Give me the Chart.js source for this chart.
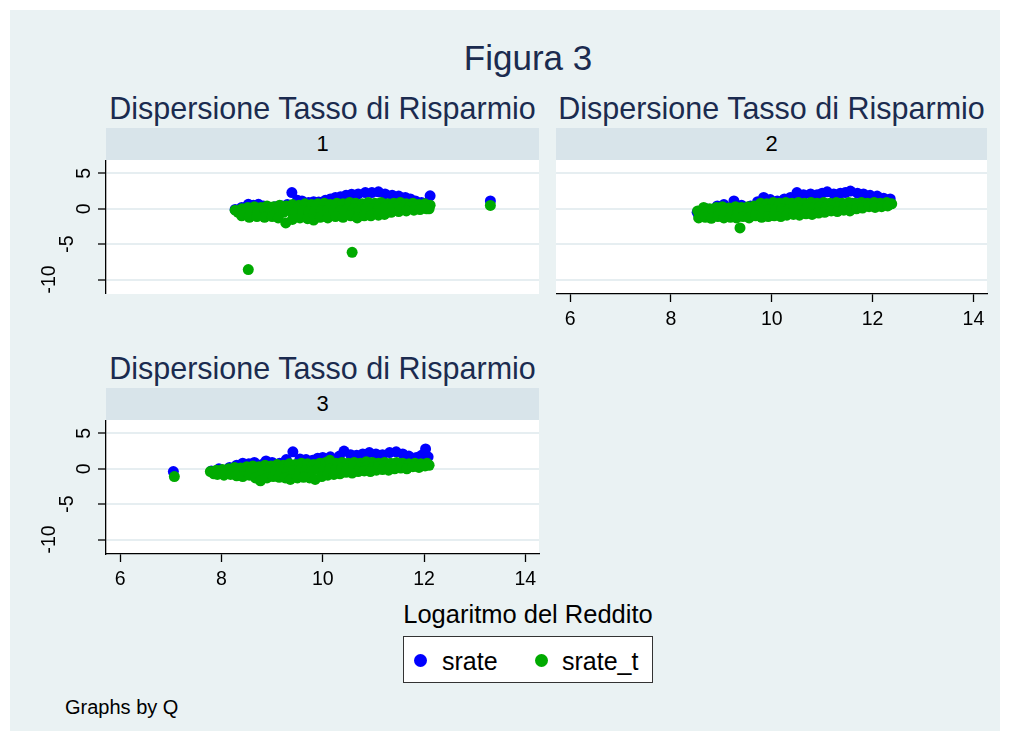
<!DOCTYPE html>
<html lang="it">
<head>
<meta charset="utf-8">
<title>Figura 3</title>
<script src="https://cdn.jsdelivr.net/npm/chart.js@4.4.1/dist/chart.umd.min.js"></script>
<style>
  body { margin: 0; background: #fff; font-family: "Liberation Sans", Arial, Helvetica, sans-serif; }
  #fig { position: relative; width: 1009px; height: 740px; overflow: hidden; }
  #region { position: absolute; left: 10px; top: 10px; width: 990px; height: 721px; background: #eaf2f3; }
  .txt { position: absolute; white-space: nowrap; text-align: center; }
  .head { color: #1b2b4f; }
  .strip { position: absolute; background: #d8e4ea; color: #000; font-size: 22px; text-align: center; }
  canvas { position: absolute; }
  #legend { position: absolute; left: 403px; top: 636px; width: 250px; height: 47px; box-sizing: border-box;
            background: #fff; border: 1px solid #333; }
  .dot { position: absolute; width: 13px; height: 13px; border-radius: 50%; }
  .lab { position: absolute; font-size: 25px; line-height: 30px; height: 30px; color: #000; }
</style>
</head>
<body>
<div id="fig">
  <div id="region"></div>

  <div class="txt head" style="left:10px; width:1036px; top:40px; height:36px; line-height:36px; font-size:35px;" id="mainTitle"></div>

  <div class="txt head" id="t1" style="left:106px; width:433px; top:93px; height:30px; line-height:30px; font-size:30.5px;"></div>
  <div class="txt head" id="t2" style="left:556px; width:431px; top:93px; height:30px; line-height:30px; font-size:30.5px;"></div>
  <div class="txt head" id="t3" style="left:106px; width:433px; top:353px; height:30px; line-height:30px; font-size:30.5px;"></div>

  <div class="strip" id="s1" style="left:106px; top:128px; width:433px; height:32px; line-height:32px;"></div>
  <div class="strip" id="s2" style="left:556px; top:128px; width:431px; height:32px; line-height:32px;"></div>
  <div class="strip" id="s3" style="left:106px; top:388px; width:433px; height:32px; line-height:32px;"></div>

  <canvas id="c1" width="509" height="134" style="left:30px; top:160px;"></canvas>
  <canvas id="c2" width="441" height="175" style="left:556px; top:160px;"></canvas>
  <canvas id="c3" width="519" height="175" style="left:30px; top:420px;"></canvas>

  <div class="txt" id="xTitle" style="left:378px; width:300px; top:598px; height:32px; line-height:32px; font-size:25.5px; color:#000;"></div>

  <div id="legend">
    <div class="dot" style="left:10px; top:17px; background:#0000ff;"></div>
    <div class="lab" id="l1" style="left:38px; top:9px;"></div>
    <div class="dot" style="left:131px; top:17px; background:#00aa00;"></div>
    <div class="lab" id="l2" style="left:158px; top:9px;"></div>
  </div>

  <div class="txt" id="note" style="left:65px; top:695px; height:24px; line-height:24px; font-size:20px; color:#000; text-align:left;"></div>
</div>

<script>
// testi
const mainTitle = 'Figura 3';
const panelTitle = 'Dispersione Tasso di Risparmio';
const stripLabels = ['1', '2', '3'];
const xTitle = 'Logaritmo del Reddito';
const seriesNames = ['srate', 'srate_t'];
const noteText = 'Graphs by Q';

// assi
const xTicks = [6, 8, 10, 12, 14];
const yTicks = [5, 0, -5, -10];
const xMin = 5.72, xMax = 14.27;
const yMin = -12.05, yMax = 6.9;

// Q = 1
const p1Srate = [[8.27,-0.1],[8.4,0.2],[8.53,0.64],[8.63,0.5],[8.73,0.64],[8.83,0.4],[8.93,0.16],[9.06,0.3],[9.19,0.4],[9.3,0.6],
  [9.39,2.3],[9.5,1.2],[9.59,1.1],[9.72,0.9],[9.82,1.0],[9.92,0.97],[10.05,1.2],[10.15,1.4],[10.25,1.6],[10.35,1.7],
  [10.46,1.9],[10.57,2.07],[10.7,2.1],[10.84,2.3],[10.97,2.3],[11.1,2.4],[11.23,2.1],[11.37,1.93],[11.5,1.8],[11.63,1.6],
  [11.73,1.4],[11.83,1.1],[11.95,0.9],[12.05,0.8],[12.12,1.83],[13.31,1.1],
  [9.0,-0.3],[9.8,0.1],[10.5,0.4],[11.2,0.6],[11.9,0.2]];
const p1SrateT = [[8.27,-0.2],[8.4,0.0],[8.52,0.2],[8.65,0.3],[8.78,0.2],[8.9,0.4],[9.03,0.3],[9.15,0.5],[9.28,0.4],[9.4,0.6],
  [9.53,0.5],[9.65,0.7],[9.78,0.6],[9.9,0.7],[10.03,0.8],[10.15,0.6],[10.28,0.8],[10.4,0.7],[10.53,0.9],[10.65,0.8],
  [10.78,0.7],[10.9,0.9],[11.03,0.8],[11.15,0.9],[11.28,0.7],[11.4,0.8],[11.53,0.9],[11.65,0.7],[11.78,0.8],[11.9,0.6],
  [12.02,0.7],[12.12,0.5],
  [8.33,-0.5],[8.47,-0.6],[8.6,-0.4],[8.72,-0.5],[8.85,-0.3],[8.97,-0.6],[9.1,-0.4],[9.22,-0.5],[9.35,-0.3],[9.47,-0.5],
  [9.6,-0.3],[9.72,-0.4],[9.85,-0.2],[9.97,-0.3],[10.1,-0.2],[10.22,-0.1],[10.35,-0.3],[10.47,-0.1],[10.6,0.0],[10.72,-0.2],
  [10.85,0.1],[10.97,0.0],[11.1,0.1],[11.22,0.2],[11.35,0.1],[11.47,0.3],[11.6,0.2],[11.72,0.3],[11.85,0.2],[11.97,0.3],[12.1,0.0],
  [8.4,-1.0],[8.55,-1.2],[8.7,-1.1],[8.85,-1.2],[9.0,-1.1],[9.12,-1.3],[9.27,-2.0],[9.4,-1.5],[9.55,-1.3],[9.7,-1.4],
  [9.82,-1.6],[9.95,-1.2],[10.1,-1.3],[10.25,-1.1],[10.4,-1.2],[10.55,-1.0],[10.68,-1.3],[10.82,-1.0],[10.95,-1.0],[11.1,-0.9],
  [11.22,-0.8],[11.35,-0.5],[11.5,-0.4],[11.65,-0.3],[11.8,-0.2],[11.92,-0.1],[12.05,0.0],
  [8.53,-8.6],[10.58,-6.15],[13.31,0.47]];

// Q = 2
const p2Srate = [[8.52,-0.5],[8.7,0.0],[8.92,0.4],[9.05,0.6],[9.25,1.1],[9.4,0.5],[9.58,0.4],[9.72,1.0],[9.84,1.6],[9.97,1.3],
  [10.11,1.1],[10.25,1.4],[10.37,1.6],[10.5,2.3],[10.63,2.0],[10.77,2.1],[10.9,2.0],[11.0,2.2],[11.1,2.4],[11.23,2.1],
  [11.36,2.2],[11.46,2.3],[11.56,2.5],[11.7,2.2],[11.82,2.1],[11.95,1.9],[12.09,1.8],[12.22,1.5],[12.35,1.4],
  [9.2,-0.4],[10.0,0.2],[10.8,0.6],[11.6,0.8],[12.2,0.7]];
const p2SrateT = [[8.53,-0.3],[8.65,0.2],[8.77,0.0],[8.9,0.2],[9.02,0.3],[9.15,0.1],[9.28,0.3],[9.4,0.2],[9.53,0.3],[9.65,0.4],
  [9.78,0.8],[9.9,0.7],[10.03,0.9],[10.15,0.8],[10.28,0.9],[10.4,0.8],[10.53,0.9],[10.65,0.8],[10.78,0.9],[10.9,0.8],
  [11.03,0.9],[11.15,0.8],[11.28,0.9],[11.4,0.8],[11.53,0.9],[11.65,0.8],[11.78,0.9],[11.9,0.8],[12.03,0.9],[12.15,0.8],
  [12.28,0.9],[12.38,0.7],
  [8.58,-0.8],[8.7,-0.6],[8.83,-0.7],[8.95,-0.5],[9.08,-0.6],[9.2,-0.4],[9.33,-0.6],[9.45,-0.4],[9.58,-0.5],[9.7,-0.2],
  [9.83,-0.3],[9.95,-0.1],[10.08,-0.2],[10.2,0.0],[10.33,-0.1],[10.45,0.1],[10.58,0.0],[10.7,0.2],[10.83,0.1],[10.95,0.3],
  [11.08,0.2],[11.2,0.4],[11.33,0.3],[11.45,0.5],[11.58,0.4],[11.7,0.6],[11.83,0.5],[11.95,0.6],[12.08,0.6],[12.2,0.5],[12.33,0.6],
  [8.55,-1.3],[8.68,-1.2],[8.8,-1.35],[8.93,-1.1],[9.05,-1.3],[9.18,-1.2],[9.3,-1.3],[9.43,-1.1],[9.55,-1.3],[9.68,-1.0],
  [9.8,-1.2],[9.93,-1.1],[10.05,-1.0],[10.18,-1.1],[10.3,-0.9],[10.43,-0.8],[10.55,-0.9],[10.68,-0.7],[10.8,-0.8],[10.93,-0.6],
  [11.05,-0.5],[11.18,-0.3],[11.3,-0.4],[11.43,-0.2],[11.55,-0.3],[11.68,0.0],[11.8,0.1],[11.93,0.3],[12.05,0.2],[12.18,0.3],[12.3,0.4],
  [9.37,-2.7]];

// Q = 3
const p3Srate = [[7.05,-0.4],[7.8,-0.3],[7.95,0.0],[8.16,0.2],[8.3,0.5],[8.42,0.8],[8.54,0.7],[8.65,0.9],[8.8,0.6],[8.88,1.1],
  [9.0,0.9],[9.15,0.8],[9.28,1.3],[9.41,2.4],[9.55,1.4],[9.67,1.3],[9.8,1.2],[9.9,1.5],[10.0,1.6],[10.15,1.7],
  [10.33,1.8],[10.42,2.5],[10.55,2.0],[10.67,1.9],[10.79,2.1],[10.92,2.3],[11.05,2.1],[11.18,2.0],[11.32,2.3],[11.45,2.4],
  [11.58,2.1],[11.7,1.8],[11.85,1.6],[11.95,1.9],[12.03,2.8],[12.08,1.7],
  [8.5,-0.5],[9.3,-0.2],[10.1,0.3],[10.9,0.5],[11.7,0.7]];
const p3SrateT = [[7.07,-1.1],
  [7.78,-0.4],[7.9,-0.2],[8.02,-0.1],[8.14,0.0],[8.26,0.2],[8.38,0.1],[8.5,0.3],[8.62,0.4],[8.74,0.3],[8.86,0.5],
  [8.98,0.4],[9.1,0.6],[9.22,0.5],[9.34,0.7],[9.46,0.6],[9.58,0.8],[9.7,0.7],[9.82,0.6],[9.94,0.8],[10.06,0.9],
  [10.14,1.2],[10.26,0.8],[10.38,0.9],[10.5,0.8],[10.62,0.9],[10.74,0.8],[10.86,1.0],[10.98,0.9],[11.1,0.8],[11.22,0.9],
  [11.34,0.8],[11.46,0.9],[11.58,0.8],[11.7,0.7],[11.82,0.8],[11.94,0.7],[12.06,0.8],[12.1,0.5],
  [7.85,-0.7],[7.98,-0.5],[8.1,-0.6],[8.22,-0.4],[8.34,-0.6],[8.46,-0.4],[8.58,-0.5],[8.7,-0.7],[8.82,-0.4],[8.94,-0.5],
  [9.06,-0.3],[9.18,-0.5],[9.3,-0.4],[9.42,-0.2],[9.54,-0.4],[9.66,-0.2],[9.78,-0.3],[9.9,-0.1],[10.02,-0.2],[10.14,0.0],
  [10.26,-0.1],[10.38,0.1],[10.5,0.0],[10.62,0.2],[10.74,0.1],[10.86,0.3],[10.98,0.2],[11.1,0.3],[11.22,0.4],[11.34,0.3],
  [11.46,0.5],[11.58,0.4],[11.7,0.5],[11.82,0.4],[11.94,0.6],
  [7.92,-0.8],[8.05,-0.9],[8.18,-0.8],[8.3,-1.0],[8.42,-1.1],[8.55,-0.9],[8.67,-1.3],[8.77,-1.7],[8.9,-1.3],[9.02,-1.1],
  [9.14,-1.2],[9.26,-1.3],[9.36,-1.5],[9.5,-1.3],[9.62,-1.2],[9.74,-1.3],[9.85,-1.5],[9.98,-1.1],[10.1,-0.9],[10.22,-0.8],
  [10.34,-0.7],[10.46,-0.5],[10.58,-0.6],[10.7,-0.4],[10.82,-0.3],[10.94,-0.4],[11.06,-0.2],[11.18,-0.1],[11.3,-0.2],[11.42,0.0],
  [11.54,0.1],[11.66,0.0],[11.78,0.3],[11.9,0.2],[12.02,0.4]];

const FONT = '"Liberation Sans", Arial, Helvetica, sans-serif';
const BLUE = '#0000ff', GREEN = '#00aa00';

document.getElementById('mainTitle').textContent = mainTitle;
['t1', 't2', 't3'].forEach(id => document.getElementById(id).textContent = panelTitle);
['s1', 's2', 's3'].forEach((id, i) => document.getElementById(id).textContent = stripLabels[i]);
document.getElementById('xTitle').textContent = xTitle;
document.getElementById('l1').textContent = seriesNames[0];
document.getElementById('l2').textContent = seriesNames[1];
document.getElementById('note').textContent = noteText;

// sfondo bianco dell'area del grafico
const plotBg = {
  id: 'plotBg',
  beforeDraw(chart) {
    const a = chart.chartArea, ctx = chart.ctx;
    ctx.save();
    ctx.fillStyle = '#fff';
    ctx.fillRect(a.left, a.top, a.right - a.left, a.bottom - a.top);
    ctx.restore();
  }
};

// etichette asse y ruotate come in Stata
const rotatedYLabels = {
  id: 'rotatedYLabels',
  afterDraw(chart, args, opts) {
    if (!opts.show) return;
    const s = chart.scales.y, ctx = chart.ctx;
    ctx.save();
    ctx.font = '19.5px ' + FONT;
    ctx.fillStyle = '#000';
    ctx.textAlign = 'center';
    ctx.textBaseline = 'alphabetic';
    s.ticks.forEach(t => {
      const lbl = String(t.value);
      const x = s.right - 16 - (lbl.length - 1) * 17.5;
      const y = s.getPixelForValue(t.value);
      ctx.save();
      ctx.translate(x, y);
      ctx.rotate(-Math.PI / 2);
      ctx.fillText(lbl, 0, 0);
      ctx.restore();
    });
    ctx.restore();
  }
};

function toXY(arr) {
  return arr.map(([x, y]) => ({ x, y }));
}

function makePanel(id, blue, green, showX, showY) {
  const ctx = document.getElementById(id).getContext('2d');
  return new Chart(ctx, {
    type: 'scatter',
    data: {
      datasets: [
        { label: seriesNames[0], data: toXY(blue), backgroundColor: BLUE, pointRadius: 5.5, borderWidth: 0, order: 2 },
        { label: seriesNames[1], data: toXY(green), backgroundColor: GREEN, pointRadius: 5.5, borderWidth: 0, order: 1 }
      ]
    },
    options: {
      responsive: false,
      animation: false,
      devicePixelRatio: 1,
      events: [],
      layout: { padding: { right: showX ? 10 : 0 }, autoPadding: false },
      scales: {
        x: {
          type: 'linear',
          display: showX,
          min: xMin, max: xMax,
          afterBuildTicks: s => { s.ticks = xTicks.map(v => ({ value: v })); },
          afterFit: s => { s.height = showX ? 41 : 0; },
          grid: { drawOnChartArea: false, drawTicks: true, tickLength: 8, tickColor: '#000', tickWidth: 1.3 },
          border: { display: true, color: '#000', width: 1.3 },
          ticks: { color: '#000', padding: 6, maxRotation: 0, font: { family: FONT, size: 19.5 } }
        },
        y: {
          type: 'linear',
          min: yMin, max: yMax,
          afterBuildTicks: s => { s.ticks = yTicks.map(v => ({ value: v })); },
          afterFit: s => { s.width = showY ? 76 : 0; },
          grid: { color: '#e6eef1', lineWidth: 2, drawTicks: showY, tickLength: 8, tickColor: '#000', tickWidth: 1.3 },
          border: { display: showY, color: '#000', width: 1.3 },
          ticks: { display: false }
        }
      },
      plugins: {
        legend: { display: false },
        tooltip: { enabled: false },
        rotatedYLabels: { show: showY }
      }
    },
    plugins: [plotBg, rotatedYLabels]
  });
}

makePanel('c1', p1Srate, p1SrateT, false, true);
makePanel('c2', p2Srate, p2SrateT, true, false);
makePanel('c3', p3Srate, p3SrateT, true, true);
</script>
</body>
</html>
